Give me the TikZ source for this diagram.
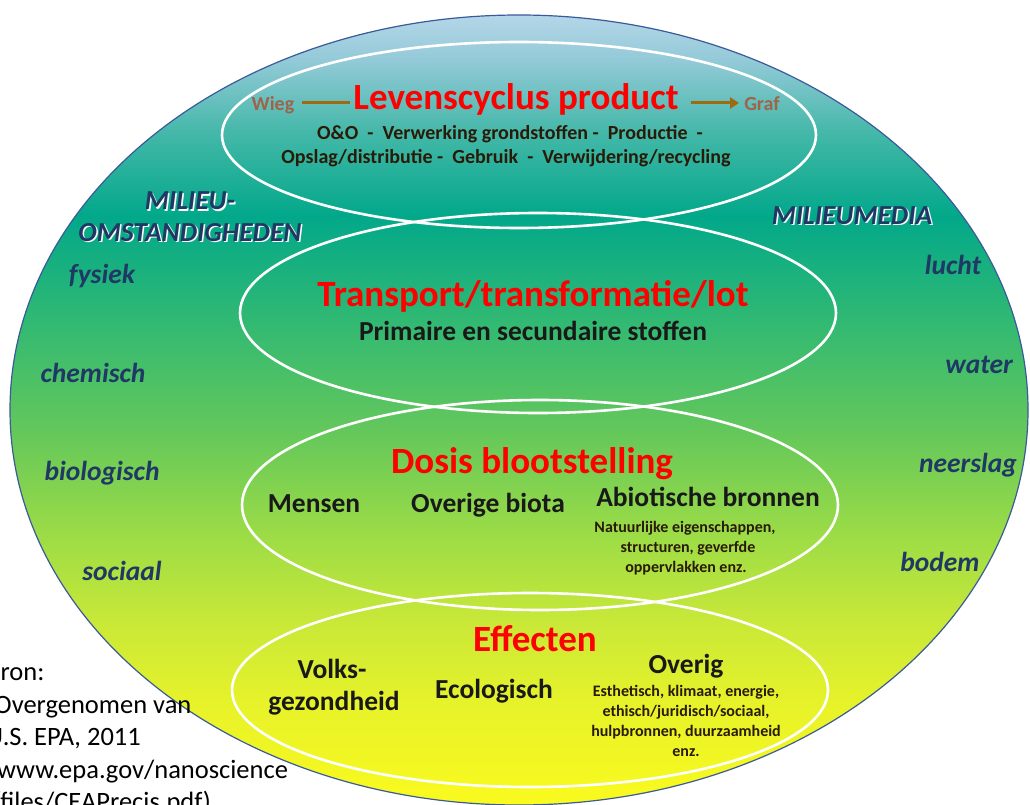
\documentclass[tikz,border=0pt]{standalone}
\usepackage{fontspec}
\setmainfont{Carlito}
\usetikzlibrary{arrows.meta}
\definecolor{ctop}{HTML}{B4D6E8}
\definecolor{cA}{HTML}{94CAD8}
\definecolor{cB}{HTML}{46B8AA}
\definecolor{cC}{HTML}{02A88A}
\definecolor{cD}{HTML}{2EB874}
\definecolor{cE}{HTML}{66C85A}
\definecolor{cF}{HTML}{9CDC46}
\definecolor{cG}{HTML}{C8E838}
\definecolor{cH}{HTML}{E6F22A}
\definecolor{cY}{HTML}{FAFA1E}
\definecolor{navy}{HTML}{1F3864}
\definecolor{outl}{HTML}{3A5A9A}
\definecolor{dtext}{HTML}{2A1A08}
\definecolor{wiegc}{HTML}{9E644A}
\definecolor{arrc}{HTML}{A06A10}
\definecolor{redt}{HTML}{FF0000}
\pgfdeclareverticalshading{bgshade}{100bp}{color(0bp)=(cY); color(25bp)=(cY); color(31.6bp)=(cH); color(36.7bp)=(cG); color(42.1bp)=(cF); color(48.4bp)=(cE); color(56bp)=(cD); color(62.3bp)=(cC); color(67.7bp)=(cB); color(72.2bp)=(cA); color(75bp)=(ctop); color(100bp)=(ctop)}
\tikzset{
  ring/.style={draw=white, line width=2.6pt},
  txt/.style={anchor=base, inner sep=0pt, font=\bfseries},
  title/.style={txt, text=redt, font=\fontsize{37}{42}\selectfont\bfseries},
  sub/.style={txt, text=dtext, font=\fontsize{20}{24}\selectfont\bfseries},
  item/.style={txt, text=black!90, font=\fontsize{27.5}{32}\selectfont\bfseries},
  small/.style={txt, text=dtext, font=\fontsize{16}{19}\selectfont\bfseries},
  side/.style={txt, text=navy, font=\fontsize{27.5}{32}\selectfont\bfseries\itshape},
  head/.style={txt, font=\fontsize{27.5}{32}\selectfont\bfseries\itshape},
  src/.style={anchor=base west, inner sep=0pt, font=\fontsize{26.5}{31}\selectfont, text=black},
}
\begin{document}
\begin{tikzpicture}[x=1pt,y=-1pt]
\useasboundingbox (0,0) rectangle (1030,805);
% big ellipse
\path[shading=bgshade] (519,410) ellipse [x radius=509, y radius=395];
\draw[outl, line width=1.2pt] (519,410) ellipse [x radius=509, y radius=395];
% inner rings
\draw[ring] (519,135) ellipse [x radius=297, y radius=93];
\draw[ring] (538,313) ellipse [x radius=298, y radius=100];
\draw[ring] (540,505) ellipse [x radius=298, y radius=105];
\draw[ring] (530,690) ellipse [x radius=298, y radius=97];

% level 1
\node[title] (lev) at (516,110) {Levenscyclus product};
\node[sub, text=wiegc] (wieg) at (273,111) {Wieg};
\node[sub, text=wiegc] (graf) at (762,111) {Graf};
\draw[arrc, line width=3pt] ([xshift=8pt]wieg.east |- 0,103) -- ([xshift=-3pt]lev.west |- 0,103);
\draw[arrc, line width=3pt, -{Triangle[length=9pt,width=11pt]}] ([xshift=12pt]lev.east |- 0,103) -- ([xshift=-5pt]graf.west |- 0,103);
\node[sub] (oo1) at (510,140) {O\&O \ - \ Verwerking grondstoffen - \ Productie \ -};
\node[sub] (oo2) at (506,164) {Opslag/distributie - \ Gebruik \ - \ Verwijdering/recycling};

% side headings
\node[head, text=white] (m1s) at (191.5,211.5) {MILIEU-};
\node[head, text=navy] (m1) at (190,210) {MILIEU-};
\node[head, text=white] (m2s) at (191.5,242.5) {OMSTANDIGHEDEN};
\node[head, text=navy] (m2) at (190,241) {OMSTANDIGHEDEN};
\node[head, text=white] (mms) at (853.5,225.5) {MILIEUMEDIA};
\node[head, text=navy] (mm) at (852,224) {MILIEUMEDIA};

\node[side] (fys) at (102,283) {fysiek};
\node[side] (che) at (93,382) {chemisch};
\node[side] (bio) at (102,480) {biologisch};
\node[side] (soc) at (122,580) {sociaal};
\node[side] (luc) at (953,274) {lucht};
\node[side] (wat) at (979,373) {water};
\node[side] (nee) at (968,472) {neerslag};
\node[side] (bod) at (940,571) {bodem};

% level 2
\node[title] (tra) at (533,306) {Transport/transformatie/lot};
\node[item] (pri) at (533,340) {Primaire en secundaire stoffen};

% level 3
\node[title] (dos) at (532,473) {Dosis blootstelling};
\node[item] (men) at (314,512) {Mensen};
\node[item] (ovb) at (488,512) {Overige biota};
\node[item] (abi) at (708,506) {Abiotische bronnen};
\node[small] (na1) at (685,532) {Natuurlijke eigenschappen,};
\node[small] (na2) at (688,552) {structuren, geverfde};
\node[small] (na3) at (686,572) {oppervlakken enz.};

% level 4
\node[title] (eff) at (535,651) {Effecten};
\node[item] (vol) at (332,678) {Volks-};
\node[item] (gez) at (334,710) {gezondheid};
\node[item] (eco) at (494,698) {Ecologisch};
\node[item] (ove) at (686,673) {Overig};
\node[small] (es1) at (686,696) {Esthetisch, klimaat, energie,};
\node[small] (es2) at (686,716) {ethisch/juridisch/sociaal,};
\node[small] (es3) at (686,736) {hulpbronnen, duurzaamheid};
\node[small] (es4) at (686,756) {enz.};

% source
\node[src] (s1) at (-14,680) {Bron:};
\node[src] (s2) at (-14,713) {(Overgenomen van};
\node[src] (s3) at (-14,745) {U.S. EPA, 2011};
\node[src] (s4) at (-3,778) {www.epa.gov/nanoscience};
\node[src] (s5) at (-10,810) {/files/CEAPrecis.pdf)};
\end{tikzpicture}
\end{document}
